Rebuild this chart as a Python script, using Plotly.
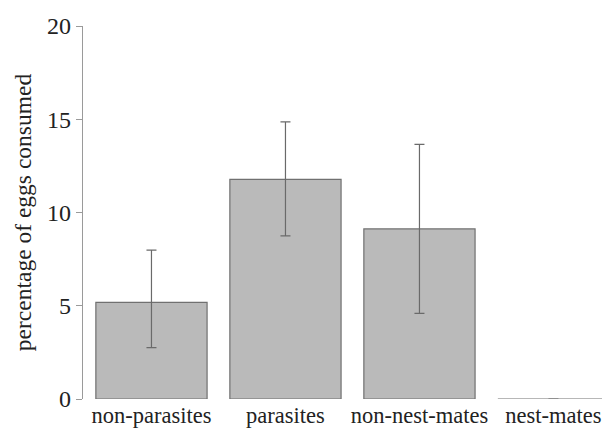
import plotly.graph_objects as go

categories = ["non-parasites", "parasites", "non-nest-mates", "nest-mates"]
values = [5.18, 11.78, 9.12, 0.0]
err_plus = [2.80, 3.08, 4.53, 0.0]
err_minus = [2.42, 3.03, 4.53, 0.0]
y_ticks = [0, 5, 10, 15, 20]

SERIF = "'Liberation Serif', 'Times New Roman', Times, serif"

fig = go.Figure()
fig.add_trace(go.Bar(
    x=categories, y=values, width=0.83,
    marker=dict(color="#bababa", line=dict(color="#707070", width=1.2)),
    error_y=dict(type="data", symmetric=False, array=err_plus, arrayminus=err_minus,
                 color="#6a6a6a", thickness=1.2, width=5),
))
fig.update_layout(
    width=602, height=420,
    margin=dict(l=75, r=0, t=18, b=20),
    paper_bgcolor="white", plot_bgcolor="white",
    showlegend=False,
    font=dict(family=SERIF, color="#222222"),
    xaxis=dict(range=[-0.511, 3.422], showline=False, showgrid=False, ticks="",
               tickfont=dict(family=SERIF, size=22.5), zeroline=False),
    yaxis=dict(range=[0, 20], tickvals=y_ticks, showline=True, linecolor="#9a9a9a",
               linewidth=1.2, ticks="outside", ticklen=6, tickcolor="#9a9a9a",
               showgrid=False, zeroline=False, tickfont=dict(family=SERIF, size=24),
               title=dict(text="percentage of eggs consumed", font=dict(family=SERIF, size=23.5), standoff=8)),
)
fig.write_html("out.html")
